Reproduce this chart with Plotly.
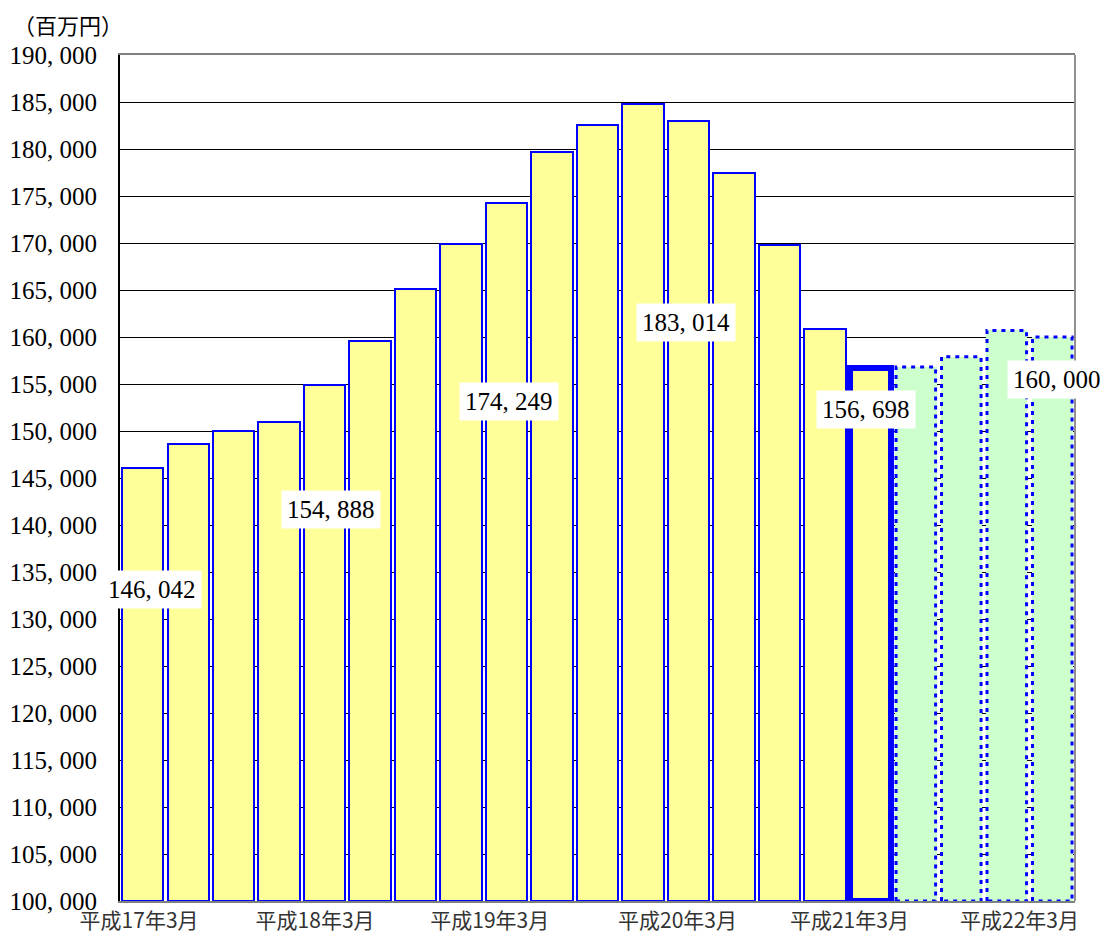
import plotly.graph_objects as go

# ---- data ----
periods = ["平成17年3月", "平成17年6月", "平成17年9月", "平成17年12月",
           "平成18年3月", "平成18年6月", "平成18年9月", "平成18年12月",
           "平成19年3月", "平成19年6月", "平成19年9月", "平成19年12月",
           "平成20年3月", "平成20年6月", "平成20年9月", "平成20年12月",
           "平成21年3月", "平成21年6月", "平成21年9月", "平成21年12月",
           "平成22年3月"]
actual_values = [146042, 148600, 150000, 151000, 154888, 159600, 165100, 169900,
                 174249, 179700, 182600, 184800, 183014, 177400, 169800, 160900,
                 156698]
forecast_values = [156800, 157900, 160700, 160000]
labeled_index = [0, 4, 8, 12, 16, 20]
tick_labels = ["平成17年3月", "平成18年3月", "平成19年3月", "平成20年3月",
               "平成21年3月", "平成22年3月"]
y_ticks = list(range(100000, 190001, 5000))

# ---- layout helpers (placement only) ----
label_x_shift = [0.2, 0.15, 0.05, -0.05, -0.1, 0.1]
label_y_pos = [133100, 141600, 153100, 161500, 152300, 155450]
tick_shift = [-0.08, -0.21, -0.37, -0.24, -0.46, -0.72]
BAR_W = 0.91
BASE = 100000
SERIF = "Liberation Serif"

n_act = len(actual_values)
all_values = actual_values + forecast_values
x_act = list(range(n_act))
x_fc = list(range(n_act, n_act + len(forecast_values)))

fig = go.Figure()

line_w = [2] * (n_act - 1) + [6]
fig.add_trace(go.Bar(
    x=x_act, y=[v - BASE for v in actual_values], base=BASE, width=BAR_W,
    marker=dict(color="#FFFF99", line=dict(color="#0000FF", width=line_w)),
    hoverinfo="skip", showlegend=False,
))
fig.add_trace(go.Bar(
    x=x_fc, y=[v - BASE for v in forecast_values], base=BASE, width=BAR_W,
    marker=dict(color="#CCFFCC", line=dict(width=0)),
    hoverinfo="skip", showlegend=False,
))

# dotted outlines for forecast bars
ox, oy = [], []
for i, v in zip(x_fc, forecast_values):
    l, r = i - BAR_W / 2 + 0.02, i + BAR_W / 2 - 0.02
    ox += [l, l, r, r, l, None]
    oy += [BASE, v, v, BASE, BASE, None]
fig.add_trace(go.Scatter(
    x=ox, y=oy, mode="lines",
    line=dict(color="#0000FF", width=3, dash="4px,5px"),
    hoverinfo="skip", showlegend=False, cliponaxis=False,
))

# value labels
for k, idx in enumerate(labeled_index):
    v = all_values[idx]
    fig.add_annotation(
        x=idx + label_x_shift[k], y=label_y_pos[k],
        text=f"{v:,}".replace(",", ", "), showarrow=False,
        font=dict(family=SERIF, size=25, color="#000000"),
        bgcolor="#FFFFFF", borderpad=5,
    )

fig.add_annotation(
    xref="paper", yref="paper", x=-0.113, y=1.037, xanchor="left", yanchor="middle",
    text="（百万円）", showarrow=False, borderpad=0,
    font=dict(family="Noto Sans CJK JP", size=22, color="#000000"),
)

# right border
fig.add_shape(type="line", xref="paper", yref="paper", x0=1, x1=1, y0=0, y1=1,
              line=dict(color="#909090", width=2))

# the page body adds an 8px margin around the figure
fig.update_layout(
    width=1108, height=929,
    margin=dict(l=112, r=41, t=47, b=36),
    paper_bgcolor="#FFFFFF", plot_bgcolor="#FFFFFF",
    bargap=0, barmode="overlay",
    xaxis=dict(
        range=[-0.5, len(all_values) - 0.5],
        tickvals=[i + s for i, s in zip(labeled_index, tick_shift)],
        ticktext=tick_labels, automargin=False,
        showgrid=False, zeroline=False,
        showline=True, linecolor="#808080", linewidth=2, mirror=True,
        ticks="", tickfont=dict(family="Noto Sans CJK JP", size=21, color="#333333"),
    ),
    yaxis=dict(
        range=[100000, 190000], automargin=False,
        tickvals=y_ticks,
        ticktext=[f"{v:,}".replace(",", ", ") for v in y_ticks],
        showgrid=True, gridcolor="#000000", gridwidth=1,
        zeroline=False, showline=True, linecolor="#000000", linewidth=2,
        ticks="", ticklabelstandoff=16,
        tickfont=dict(family=SERIF, size=25, color="#000000"),
    ),
)

fig.write_html("out.html")
